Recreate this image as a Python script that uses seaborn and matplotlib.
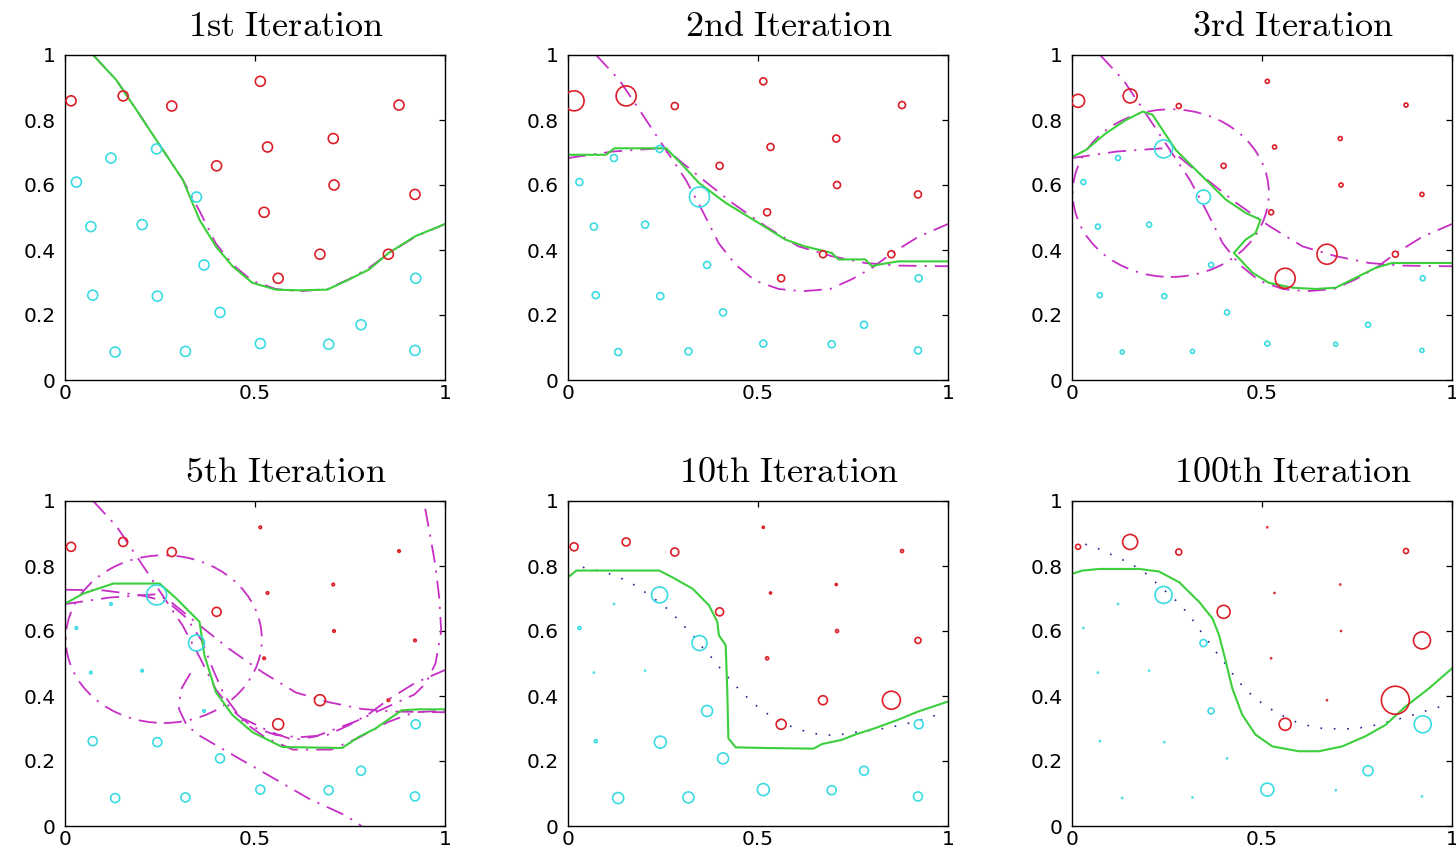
import numpy as np
import pandas as pd
import matplotlib
matplotlib.use("Agg")
import matplotlib.pyplot as plt
import seaborn as sns
from matplotlib.patches import Circle

# ---------------- data ----------------
titles = ["1st Iteration", "2nd Iteration", "3rd Iteration",
          "5th Iteration", "10th Iteration", "100th Iteration"]

red_x = [0.016, 0.153, 0.281, 0.514, 0.879, 0.706, 0.533, 0.399, 0.708, 0.921, 0.524, 0.671, 0.851, 0.561]
red_y = [0.859, 0.874, 0.843, 0.919, 0.846, 0.743, 0.717, 0.659, 0.600, 0.571, 0.516, 0.387, 0.387, 0.313]
cyan_x = [0.030, 0.121, 0.241, 0.346, 0.068, 0.203, 0.366, 0.073, 0.243, 0.408, 0.132, 0.317, 0.514, 0.694, 0.779, 0.921, 0.923]
cyan_y = [0.609, 0.683, 0.711, 0.563, 0.472, 0.478, 0.354, 0.261, 0.258, 0.208, 0.086, 0.088, 0.112, 0.110, 0.170, 0.091, 0.313]

# marker diameters (pixels) per iteration panel
red_diam = [
    [10, 10, 10, 10, 10, 10, 10, 10, 10, 10, 10, 10, 10, 10],
    [20, 20, 7, 7, 7, 7, 7, 7, 7, 7, 7, 7, 7, 7],
    [13, 14, 5, 4, 4, 4, 4, 5, 4, 4, 5, 20, 6, 20],
    [9, 9, 9, 2.5, 2.5, 2.5, 2.5, 9, 2.5, 2.5, 2.5, 11, 2.5, 11],
    [8, 8, 8, 2, 3, 2, 2, 8, 3, 6, 3, 9, 18, 10],
    [5, 15, 6, 1, 5, 1, 1, 13, 1, 17, 1, 1, 28, 12],
]
cyan_diam = [
    [10, 10, 10, 10, 10, 10, 10, 10, 10, 10, 10, 10, 10, 10, 10, 10, 10],
    [7, 7, 7, 20, 7, 7, 7, 7, 7, 7, 7, 7, 7, 7, 7, 7, 7],
    [5, 5, 18, 14, 5, 5, 5, 5, 5, 5, 4, 4, 5, 4, 5, 4, 5],
    [2.5, 2.5, 20, 16, 2.5, 2.5, 2.5, 9, 9, 9, 9, 9, 9, 9, 9, 9, 9],
    [3, 1, 16, 15, 1, 1, 11, 3, 12, 11, 11, 11, 12, 9, 9, 9, 9],
    [1, 1, 17, 7, 1, 1, 6, 1, 1, 1, 1, 1, 13, 1, 10, 1, 17],
]

# weak learners (magenta dash-dot)
learnA_x = [0.074, 0.135, 0.188, 0.240, 0.310, 0.354, 0.397, 0.441, 0.493, 0.555, 0.616, 0.690, 0.747, 0.800, 0.852, 0.921, 1.000]
learnA_y = [1.000, 0.923, 0.831, 0.739, 0.616, 0.520, 0.420, 0.355, 0.305, 0.280, 0.273, 0.280, 0.310, 0.345, 0.390, 0.440, 0.480]
learnB_x = [0.000, 0.118, 0.240, 0.275, 0.345, 0.432, 0.520, 0.607, 0.694, 0.782, 0.869, 1.000]
learnB_y = [0.683, 0.703, 0.713, 0.693, 0.626, 0.545, 0.473, 0.411, 0.381, 0.360, 0.352, 0.350]
learnC_center = (0.26, 0.575)
learnC_radius = 0.258
learnD_x = [0.000, 0.100, 0.200, 0.270, 0.320, 0.360, 0.390, 0.420, 0.470, 0.530, 0.600, 0.700, 0.770, 0.850, 0.920, 1.000]
learnD_y = [0.727, 0.725, 0.710, 0.690, 0.640, 0.570, 0.480, 0.400, 0.320, 0.270, 0.235, 0.235, 0.270, 0.320, 0.350, 0.355]
learnE_x = [0.948, 0.960, 0.975, 0.985, 0.990, 0.975, 0.950, 0.920, 0.855, 0.763, 0.658, 0.600, 0.540, 0.470]
learnE_y = [0.976, 0.900, 0.800, 0.700, 0.600, 0.500, 0.440, 0.405, 0.370, 0.321, 0.275, 0.265, 0.290, 0.330]
learnF_x = [0.330, 0.305, 0.300, 0.320, 0.354, 0.459, 0.537, 0.642, 0.739, 0.780]
learnF_y = [0.470, 0.420, 0.360, 0.310, 0.278, 0.207, 0.155, 0.084, 0.032, 0.000]
panel_learners = [["A"], ["A", "B"], ["A", "B", "C"], ["A", "B", "C", "D", "E", "F"], [], []]

# combined classifier boundary (green)
green1_x = [0.074, 0.135, 0.188, 0.240, 0.310, 0.354, 0.397, 0.441, 0.493, 0.555, 0.616, 0.690, 0.747, 0.800, 0.852, 0.921, 1.000]
green1_y = [1.000, 0.923, 0.831, 0.739, 0.616, 0.493, 0.411, 0.350, 0.299, 0.278, 0.276, 0.278, 0.309, 0.340, 0.391, 0.442, 0.480]
green2_x = [0.000, 0.100, 0.122, 0.258, 0.297, 0.345, 0.415, 0.502, 0.572, 0.624, 0.694, 0.712, 0.782, 0.800, 0.817, 0.869, 1.000]
green2_y = [0.693, 0.693, 0.713, 0.713, 0.667, 0.606, 0.545, 0.483, 0.432, 0.411, 0.391, 0.371, 0.371, 0.350, 0.355, 0.365, 0.365]
green3_x = [0.000, 0.037, 0.089, 0.142, 0.186, 0.212, 0.238, 0.273, 0.334, 0.405, 0.457, 0.496, 0.483, 0.457, 0.426, 0.475, 0.518, 0.580, 0.641, 0.694, 0.737, 0.799, 0.842, 1.000]
green3_y = [0.686, 0.708, 0.759, 0.800, 0.826, 0.816, 0.770, 0.708, 0.637, 0.555, 0.514, 0.493, 0.452, 0.432, 0.391, 0.330, 0.299, 0.284, 0.280, 0.284, 0.309, 0.345, 0.360, 0.360]
green4_x = [0.000, 0.048, 0.127, 0.249, 0.293, 0.354, 0.367, 0.397, 0.441, 0.493, 0.546, 0.572, 0.729, 0.773, 0.817, 0.886, 0.930, 1.000]
green4_y = [0.684, 0.715, 0.746, 0.746, 0.700, 0.628, 0.525, 0.412, 0.341, 0.289, 0.258, 0.243, 0.240, 0.274, 0.300, 0.356, 0.359, 0.359]
green5_x = [0.000, 0.022, 0.240, 0.275, 0.328, 0.371, 0.393, 0.397, 0.415, 0.419, 0.422, 0.441, 0.520, 0.646, 0.668, 0.720, 0.755, 0.808, 0.869, 0.921, 1.000]
green5_y = [0.765, 0.786, 0.786, 0.765, 0.730, 0.679, 0.628, 0.587, 0.556, 0.423, 0.270, 0.242, 0.240, 0.238, 0.252, 0.265, 0.281, 0.301, 0.327, 0.352, 0.383]
green6_x = [0.000, 0.028, 0.072, 0.177, 0.229, 0.282, 0.335, 0.370, 0.387, 0.405, 0.422, 0.448, 0.483, 0.527, 0.597, 0.650, 0.711, 0.772, 0.825, 0.877, 0.939, 1.000]
green6_y = [0.776, 0.786, 0.791, 0.791, 0.783, 0.750, 0.689, 0.638, 0.587, 0.505, 0.423, 0.342, 0.281, 0.245, 0.230, 0.230, 0.245, 0.276, 0.311, 0.367, 0.423, 0.485]

# dotted reference boundary (blue) in the last two panels
blue5_x = [0.039, 0.105, 0.140, 0.170, 0.197, 0.221, 0.246, 0.271, 0.291, 0.312, 0.332, 0.349, 0.369, 0.387, 0.404, 0.424, 0.443, 0.465, 0.487, 0.511, 0.537, 0.568, 0.598, 0.631, 0.665, 0.703, 0.773, 0.810, 0.843, 0.878, 0.913, 0.948, 0.978]
blue5_y = [0.796, 0.778, 0.762, 0.745, 0.724, 0.704, 0.684, 0.658, 0.633, 0.607, 0.582, 0.556, 0.531, 0.505, 0.480, 0.454, 0.429, 0.403, 0.378, 0.357, 0.335, 0.316, 0.301, 0.289, 0.281, 0.279, 0.291, 0.296, 0.303, 0.311, 0.321, 0.332, 0.346]
blue6_x = [0.035, 0.068, 0.100, 0.130, 0.159, 0.186, 0.210, 0.234, 0.257, 0.278, 0.298, 0.315, 0.333, 0.349, 0.367, 0.383, 0.400, 0.417, 0.435, 0.455, 0.477, 0.500, 0.527, 0.558, 0.588, 0.622, 0.655, 0.692, 0.729, 0.765, 0.801, 0.834, 0.869, 0.904, 0.939, 0.969]
blue6_y = [0.867, 0.854, 0.837, 0.821, 0.803, 0.786, 0.760, 0.735, 0.711, 0.689, 0.663, 0.638, 0.609, 0.582, 0.556, 0.529, 0.505, 0.477, 0.449, 0.423, 0.398, 0.378, 0.357, 0.337, 0.321, 0.309, 0.301, 0.299, 0.299, 0.303, 0.311, 0.321, 0.332, 0.344, 0.357, 0.367]

green_x = [green1_x, green2_x, green3_x, green4_x, green5_x, green6_x]
green_y = [green1_y, green2_y, green3_y, green4_y, green5_y, green6_y]
blue_x = [None, None, None, None, blue5_x, blue6_x]
blue_y = [None, None, None, None, blue5_y, blue6_y]

# ---------------- style ----------------
RED = "#dc1e28"
CYAN = "#3adbe3"
MAGENTA = "#c62ec6"
GREEN = "#3ccf3c"
BLUE = "#22229a"
DASHDOT = (0, (10, 4.5, 1.2, 4.5))

sns.set_theme(style="white")
plt.rcParams["font.family"] = ["DejaVu Sans"]
plt.rcParams["mathtext.fontset"] = "cm"

W, H = 1456, 856
fig = plt.figure(figsize=(W / 100, H / 100), dpi=100)
lefts = [65, 568, 1072]
tops = [55, 501]
aw, ah = 380, 325

learners = {
    "A": (learnA_x, learnA_y),
    "B": (learnB_x, learnB_y),
    "D": (learnD_x, learnD_y),
    "E": (learnE_x, learnE_y),
    "F": (learnF_x, learnF_y),
}


def area(d_px):
    return [(d * 0.72) ** 2 for d in d_px]


for i in range(6):
    r, c = divmod(i, 3)
    ax = fig.add_axes([lefts[c] / W, 1 - (tops[r] + ah) / H, aw / W, ah / H])

    # weak learners
    for name in panel_learners[i]:
        if name == "C":
            ax.add_patch(Circle(learnC_center, learnC_radius, fill=False,
                                edgecolor=MAGENTA, lw=1.3, linestyle=DASHDOT))
        else:
            lx, ly = learners[name]
            sns.lineplot(x=lx, y=ly, sort=False, estimator=None, ax=ax,
                         color=MAGENTA, lw=1.3, linestyle=DASHDOT)

    # dotted boundary
    if blue_x[i] is not None:
        sns.lineplot(x=blue_x[i], y=blue_y[i], sort=False, estimator=None, ax=ax,
                     color=BLUE, lw=1.2, linestyle=(0, (1, 7)))

    # combined boundary
    sns.lineplot(x=green_x[i], y=green_y[i], sort=False, estimator=None, ax=ax,
                 color=GREEN, lw=1.5)

    # weighted samples
    rdf = pd.DataFrame({"x": red_x, "y": red_y, "s": area(red_diam[i])})
    cdf = pd.DataFrame({"x": cyan_x, "y": cyan_y, "s": area(cyan_diam[i])})
    for df, col in [(rdf, RED), (cdf, CYAN)]:
        sns.scatterplot(data=df, x="x", y="y", size="s", sizes=(0, 2000),
                        size_norm=(0, 2000), legend=False, ax=ax,
                        facecolor="none", edgecolor=col, linewidth=1.2, zorder=5)

    ax.set_xlim(0, 1)
    ax.set_ylim(0, 1)
    ax.set_xticks([0, 0.5, 1])
    ax.set_xticklabels(["0", "0.5", "1"])
    ax.set_yticks([0, 0.2, 0.4, 0.6, 0.8, 1])
    ax.set_yticklabels(["0", "0.2", "0.4", "0.6", "0.8", "1"])
    ax.set_xlabel("")
    ax.set_ylabel("")
    ax.tick_params(direction="in", top=True, right=True, length=4, width=0.9,
                   labelsize=14.5, colors="black", pad=7)
    ax.tick_params(axis="x", pad=3)
    for sp in ax.spines.values():
        sp.set_visible(True)
        sp.set_color("black")
        sp.set_linewidth(1.0)
    ax.set_title(r"$\mathrm{" + titles[i].replace(" ", r"\ ") + "}$",
                 fontsize=26, x=0.58, pad=14, color="black")

fig.savefig("out.png", dpi=100, facecolor="white")
